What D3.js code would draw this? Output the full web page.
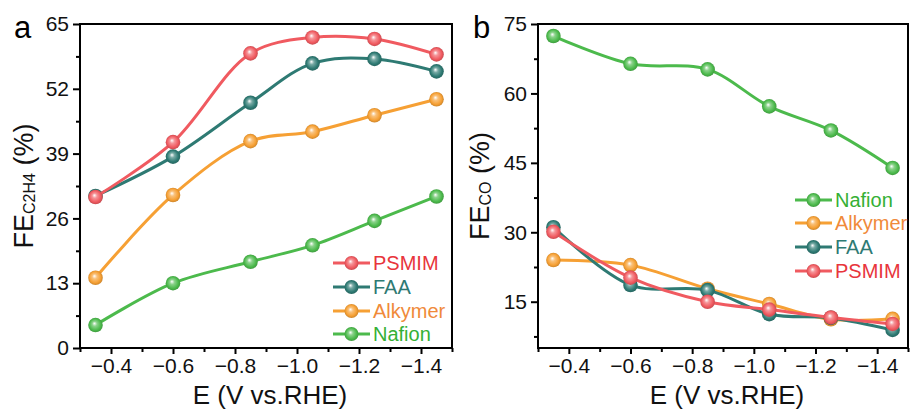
<!DOCTYPE html>
<html><head><meta charset="utf-8">
<script src="https://cdn.jsdelivr.net/npm/d3@7"></script>
<style>
body{margin:0;background:#fff;}
text{font-family:"Liberation Sans",Arial,sans-serif;}
</style></head>
<body>
<svg id="chart" width="911" height="412"></svg>
<script>
// ---- data ----
const potentials = [-0.35, -0.6, -0.85, -1.05, -1.25, -1.45];
const xTicks = [-0.4, -0.6, -0.8, -1.0, -1.2, -1.4];

// Panel a: FE C2H4 (%)
const c2h4PSMIM   = [30.3, 41.3, 59.1, 62.3, 62.0, 58.9];
const c2h4FAA     = [30.5, 38.4, 49.2, 57.1, 58.0, 55.5];
const c2h4Alkymer = [14.1, 30.7, 41.5, 43.4, 46.7, 49.9];
const c2h4Nafion  = [4.6, 13.0, 17.3, 20.6, 25.5, 30.4];
const yTicksA = [0, 13, 26, 39, 52, 65];

// Panel b: FE CO (%)
const coNafion  = [72.4, 66.4, 65.2, 57.2, 52.0, 43.9];
const coAlkymer = [24.0, 22.9, 17.8, 14.5, 11.2, 11.3];
const coFAA     = [31.1, 18.6, 17.5, 12.3, 11.5, 8.9];
const coPSMIM   = [30.1, 20.2, 15.0, 13.3, 11.6, 10.2];
const yTicksB = [15, 30, 45, 60, 75];

const seriesNames = ["PSMIM", "FAA", "Alkymer", "Nafion"];
const legendA = ["PSMIM", "FAA", "Alkymer", "Nafion"];
const legendB = ["Nafion", "Alkymer", "FAA", "PSMIM"];

const colors = {PSMIM:"#f05a60", FAA:"#2e7a73", Alkymer:"#f6a034", Nafion:"#4cba4c"};
const textColors = {PSMIM:"#e8353c", FAA:"#2e7a73", Alkymer:"#f08a3a", Nafion:"#35b035"};

const svg = d3.select("#chart");
const defs = svg.append("defs");
Object.entries(colors).forEach(([k,c])=>{
  const g = defs.append("radialGradient").attr("id","grad-"+k)
    .attr("cx","50%").attr("cy","50%").attr("r","55%").attr("fx","42%").attr("fy","38%");
  const base = d3.color(c);
  g.append("stop").attr("offset","0%").attr("stop-color","#ffffff");
  g.append("stop").attr("offset","30%").attr("stop-color",d3.interpolateRgb(c,"#fff")(0.35));
  g.append("stop").attr("offset","70%").attr("stop-color",c);
  g.append("stop").attr("offset","100%").attr("stop-color",base.darker(0.7));
});

function panel(opts){
  const {x0,x1,y0,y1,yDomain,yTicks,yMinor,data,legend,legendPos,letter,ytitleSub,ytitleX} = opts;
  const g = svg.append("g");
  const x = d3.scaleLinear().domain([-0.3,-1.5]).range([x0,x1]);
  const y = d3.scaleLinear().domain(yDomain).range([y1,y0]);

  // minor ticks
  const xMinor = [-0.3,-0.5,-0.7,-0.9,-1.1,-1.3,-1.5];
  g.append("g").attr("transform",`translate(0,${y1})`)
    .call(d3.axisBottom(x).tickValues(xMinor).tickSize(4).tickFormat(""))
    .call(a=>{a.select(".domain").remove(); a.selectAll("line").attr("stroke","#000").attr("stroke-width",2);});
  g.append("g").attr("transform",`translate(${x0},0)`)
    .call(d3.axisLeft(y).tickValues(yMinor).tickSize(4).tickFormat(""))
    .call(a=>{a.select(".domain").remove(); a.selectAll("line").attr("stroke","#000").attr("stroke-width",2);});
  // major ticks
  const xa = g.append("g").attr("transform",`translate(0,${y1})`)
    .call(d3.axisBottom(x).tickValues(xTicks).tickSize(6).tickPadding(4).tickFormat(d3.format(".1f")));
  xa.select(".domain").remove();
  xa.selectAll("line").attr("stroke","#000").attr("stroke-width",2);
  xa.selectAll("text").attr("font-size",21).attr("fill","#111").attr("font-family","Liberation Sans, Arial").attr("dy","0.71em");
  const ya = g.append("g").attr("transform",`translate(${x0},0)`)
    .call(d3.axisLeft(y).tickValues(yTicks).tickSize(7).tickPadding(4).tickFormat(d3.format("d")));
  ya.select(".domain").remove();
  ya.selectAll("line").attr("stroke","#000").attr("stroke-width",2);
  ya.selectAll("text").attr("font-size",21).attr("fill","#111").attr("font-family","Liberation Sans, Arial");

  // frame
  g.append("rect").attr("x",x0).attr("y",y0).attr("width",x1-x0).attr("height",y1-y0)
    .attr("fill","none").attr("stroke","#000").attr("stroke-width",2);

  const line = d3.line().x((d,i)=>x(potentials[i])).y(d=>y(d)).curve(d3.curveCatmullRom.alpha(0.5));
  const order = ["Nafion","Alkymer","FAA","PSMIM"];
  order.forEach(name=>{
    const vals = data[name];
    g.append("path").attr("d",line(vals)).attr("fill","none").attr("stroke",colors[name]).attr("stroke-width",3);
    g.selectAll(null).data(vals).enter().append("circle")
      .attr("cx",(d,i)=>x(potentials[i])).attr("cy",d=>y(d)).attr("r",7.3)
      .attr("fill",`url(#grad-${name})`);
  });

  // legend
  legend.forEach((name,i)=>{
    const ly = legendPos.y[i];
    const lg = g.append("g");
    lg.append("line").attr("x1",legendPos.x).attr("x2",legendPos.x+37).attr("y1",ly).attr("y2",ly)
      .attr("stroke",colors[name]).attr("stroke-width",3);
    lg.append("circle").attr("cx",legendPos.x+18.5).attr("cy",ly).attr("r",7).attr("fill",`url(#grad-${name})`);
    lg.append("text").attr("x",legendPos.x+40).attr("y",ly+7).attr("font-size",20)
      .attr("fill",textColors[name]).text(name);
  });

  // panel letter
  g.append("text").attr("x",opts.letterX).attr("y",38).attr("font-size",31).attr("fill","#000").text(letter);

  // x title
  g.append("text").attr("x",(x0+x1)/2+4).attr("y",404).attr("text-anchor","middle")
    .attr("font-size",26).attr("fill","#111").text("E (V vs.RHE)");

  // y title
  const yt = g.append("text").attr("transform",`translate(${ytitleX},${(y0+y1)/2}) rotate(-90)`)
    .attr("text-anchor","middle").attr("font-size",27).attr("fill","#111");
  yt.append("tspan").text("FE");
  yt.append("tspan").attr("font-size",16).attr("dy",2).text(ytitleSub);
  yt.append("tspan").attr("dy",-2).text(" (%)");
}

panel({x0:80,x1:452,y0:24,y1:348,yDomain:[0,65],yTicks:yTicksA,
  yMinor:[6.5,19.5,32.5,45.5,58.5],
  data:{PSMIM:c2h4PSMIM,FAA:c2h4FAA,Alkymer:c2h4Alkymer,Nafion:c2h4Nafion},
  legend:legendA,legendPos:{x:333,y:[263,287,311,334]},letter:"a",letterX:14,
  ytitleSub:"C2H4",ytitleX:33});

panel({x0:538,x1:908,y0:24,y1:348,yDomain:[5,75],yTicks:yTicksB,
  yMinor:[7.5,22.5,37.5,52.5,67.5],
  data:{PSMIM:coPSMIM,FAA:coFAA,Alkymer:coAlkymer,Nafion:coNafion},
  legend:legendB,legendPos:{x:795,y:[200,223,247,271]},letter:"b",letterX:473,
  ytitleSub:"CO",ytitleX:489});
</script>
</body></html>
